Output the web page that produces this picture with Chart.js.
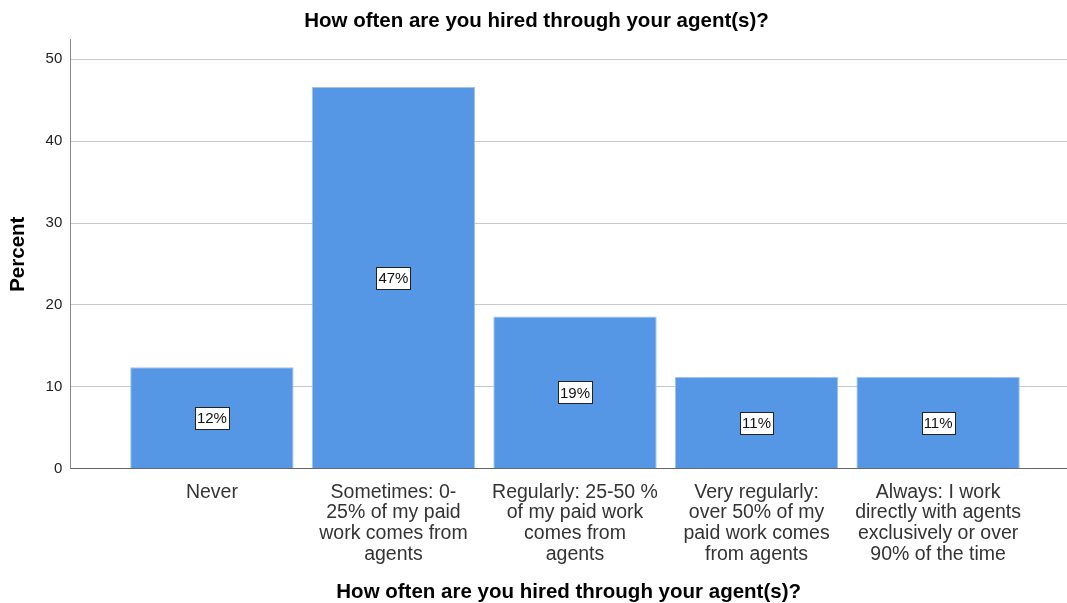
<!DOCTYPE html>
<html>
<head>
<meta charset="utf-8">
<script src="https://cdn.jsdelivr.net/npm/chart.js@4"></script>
<style>
    html, body { margin: 0; padding: 0; background: #fff; }
    #wrap { width: 1067px; height: 603px; }
</style>
</head>
<body>
<div id="wrap"><canvas id="agentChart"></canvas></div>
<script>
const chartTitle = 'How often are you hired through your agent(s)?';
const categories = [
    ['Never'],
    ['Sometimes: 0-', '25% of my paid', 'work comes from', 'agents'],
    ['Regularly: 25-50 %', 'of my paid work', 'comes from', 'agents'],
    ['Very regularly:', 'over 50% of my', 'paid work comes', 'from agents'],
    ['Always: I work', 'directly with agents', 'exclusively or over', '90% of the time']
];
const percentValues = [12.4, 46.6, 18.6, 11.2, 11.2];
const yTicks = [0, 10, 20, 30, 40, 50];

const FONT = '"Liberation Sans", Arial, sans-serif';

document.addEventListener('DOMContentLoaded', function() {
    initializeChart();
});

const percentLabels = {
    id: 'percentLabels',
    afterDatasetsDraw(chart) {
        const ctx = chart.ctx;
        const meta = chart.getDatasetMeta(0);
        ctx.save();
        ctx.font = '15px ' + FONT;
        ctx.textAlign = 'center';
        ctx.textBaseline = 'middle';
        meta.data.forEach(function(bar, i) {
            const text = Math.round(percentValues[i]) + '%';
            const cy = (bar.y + bar.base) / 2;
            const w = Math.round(ctx.measureText(text).width + 4);
            const h = 22;
            const left = Math.round(bar.x - w / 2);
            const top = Math.round(cy - h / 2);
            ctx.fillStyle = '#fff';
            ctx.fillRect(left, top, w, h);
            ctx.strokeStyle = '#222';
            ctx.lineWidth = 1;
            ctx.strokeRect(left + 0.5, top + 0.5, w, h);
            ctx.fillStyle = '#111';
            ctx.fillText(text, bar.x, cy + 1);
        });
        ctx.restore();
    }
};

function initializeChart() {
    const ctx = document.getElementById('agentChart').getContext('2d');
    window.agentChart = new Chart(ctx, {
        type: 'bar',
        data: {
            datasets: [{
                data: percentValues.map((v, i) => ({ x: i, y: v })),
                backgroundColor: '#5596e5',
                borderColor: '#9fc3f0',
                borderWidth: 1,
                barPercentage: 0.9,
                categoryPercentage: 1
            }]
        },
        plugins: [percentLabels],
        options: {
            responsive: true,
            maintainAspectRatio: false,
            animation: false,
            layout: {
                padding: { left: 6, right: 0, top: 6, bottom: 0 }
            },
            plugins: {
                legend: { display: false },
                tooltip: { enabled: false },
                title: {
                    display: true,
                    text: chartTitle,
                    color: '#000',
                    font: { family: FONT, size: 20.5, weight: 'bold' },
                    padding: { top: 3, bottom: 6 }
                }
            },
            scales: {
                x: {
                    type: 'linear',
                    min: -0.78,
                    max: 4.71,
                    offset: false,
                    afterBuildTicks: function(scale) {
                        scale.ticks = categories.map((_, i) => ({ value: i }));
                    },
                    grid: { display: false },
                    border: { display: true, color: '#666', width: 1 },
                    ticks: {
                        autoSkip: false,
                        maxRotation: 0,
                        color: '#333',
                        padding: 5,
                        font: { family: FONT, size: 19.5, lineHeight: 1.06 },
                        callback: function(value) {
                            return categories[value] || '';
                        }
                    },
                    title: {
                        display: true,
                        text: chartTitle,
                        color: '#000',
                        font: { family: FONT, size: 20.5, weight: 'bold', lineHeight: 1.0 },
                        padding: { top: 13, bottom: 0 }
                    }
                },
                y: {
                    min: 0,
                    max: 52.4,
                    afterBuildTicks: function(scale) {
                        scale.ticks = yTicks.map(v => ({ value: v }));
                    },
                    grid: { color: '#c8c8c8', lineWidth: 1, drawTicks: false },
                    border: { display: true, color: '#888', width: 1 },
                    ticks: {
                        color: '#222',
                        padding: 8,
                        font: { family: FONT, size: 15 }
                    },
                    title: {
                        display: true,
                        text: 'Percent',
                        color: '#000',
                        font: { family: FONT, size: 20.5, weight: 'bold' },
                        padding: { top: 0, bottom: 7 }
                    }
                }
            }
        }
    });
}
</script>
</body>
</html>
